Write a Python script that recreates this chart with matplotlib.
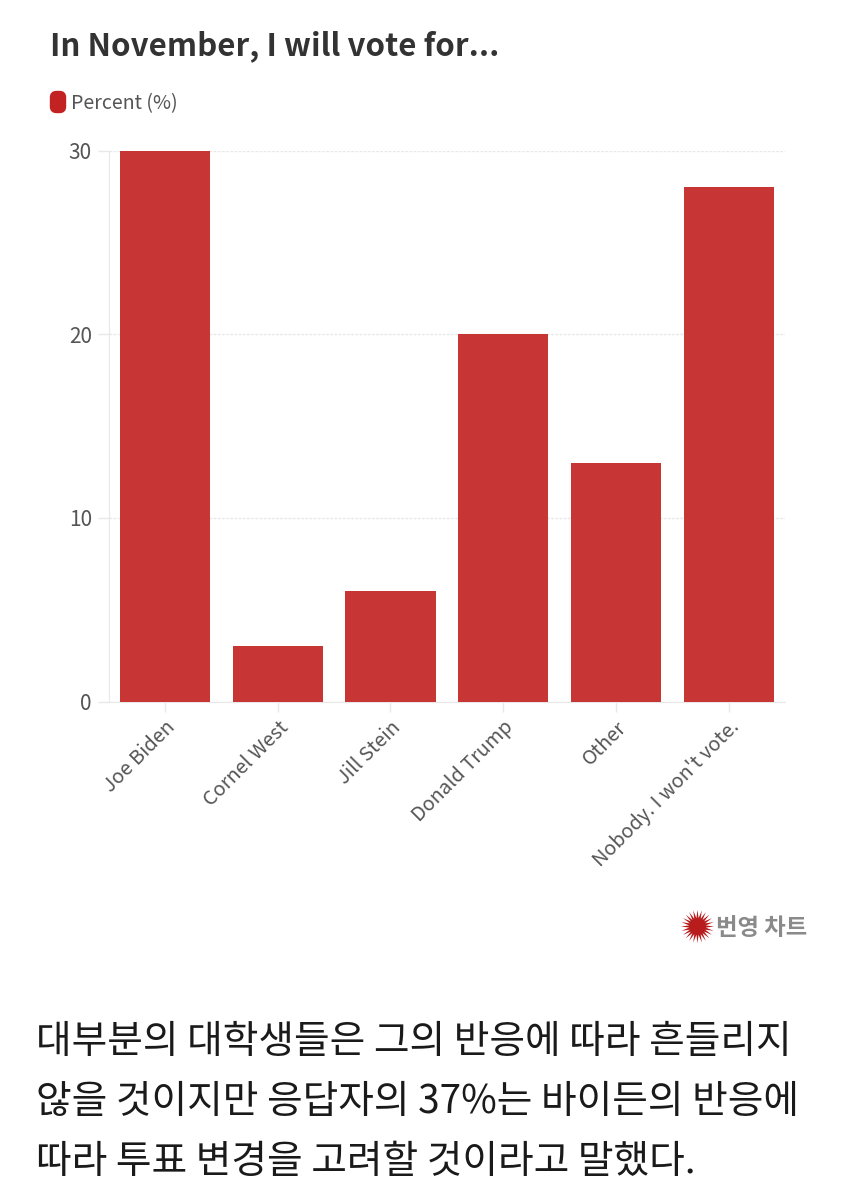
#!/usr/bin/env python3
"""Bar chart of stated vote intention, with the Korean caption underneath."""

import matplotlib

matplotlib.use("Agg")
import matplotlib.pyplot as plt
from matplotlib.patches import FancyBboxPatch

CANDIDATES = ["Joe Biden", "Cornel West", "Jill Stein", "Donald Trump", "Other", "Nobody. I won't vote."]
PERCENT = [30, 3, 6, 20, 13, 28]
Y_TICKS = [0, 10, 20, 30]

TITLE = "In November, I will vote for..."
SERIES_LABEL = "Percent (%)"
BADGE = "번영 차트"
CAPTION = [
    "대부분의 대학생들은 그의 반응에 따라 흔들리지",
    "않을 것이지만 응답자의 37%는 바이든의 반응에",
    "따라 투표 변경을 고려할 것이라고 말했다.",
]

WIDTH, HEIGHT = 850, 1201
BAR_COLOR = "#C73535"
SWATCH_COLOR = "#C22222"
TEXT_DARK = "#333333"
TEXT_MID = "#555555"
LINE_COLOR = "#E8E8E8"
FONT = ["Noto Sans CJK KR", "DejaVu Sans"]

plt.rcParams["font.family"] = FONT

fig = plt.figure(figsize=(WIDTH / 100, HEIGHT / 100), dpi=100, facecolor="white")

# overlay in pixel coordinates for the text around the chart
page = fig.add_axes([0, 0, 1, 1])
page.set_xlim(0, WIDTH)
page.set_ylim(HEIGHT, 0)
page.axis("off")

left, right, top, bottom = 108.6, 785, 150.5, 701.5
ax = fig.add_axes([left / WIDTH, 1 - bottom / HEIGHT, (right - left) / WIDTH, (bottom - top) / HEIGHT])

positions = list(range(len(CANDIDATES)))
ax.bar(positions, PERCENT, width=0.8, color=BAR_COLOR, zorder=3)
ax.set_xlim(-0.5, len(CANDIDATES) - 0.5)
ax.set_ylim(0, 30)
ax.set_yticks(Y_TICKS)
ax.set_xticks(positions)
ax.set_xticklabels(CANDIDATES, rotation=45, ha="right", va="top", rotation_mode="anchor",
                   fontsize=14.3, color=TEXT_MID)
ax.tick_params(axis="x", length=7, width=1, color=LINE_COLOR, pad=4)
ax.tick_params(axis="y", length=8, width=1, color=LINE_COLOR, pad=4, labelsize=15, labelcolor=TEXT_MID)
ax.yaxis.grid(True, color=LINE_COLOR, linewidth=1, linestyle=(0, (2, 1)), zorder=0)
ax.set_axisbelow(True)
for spine in ("top", "right"):
    ax.spines[spine].set_visible(False)
for spine in ("left", "bottom"):
    ax.spines[spine].set_color(LINE_COLOR)

page.text(50, 46.5, TITLE, fontsize=22.5, fontweight="bold", color=TEXT_DARK, ha="left", va="center")
page.add_patch(FancyBboxPatch((50.5, 91.5), 15, 21, boxstyle="round,pad=0,rounding_size=6",
                              facecolor=SWATCH_COLOR, edgecolor=SWATCH_COLOR, linewidth=1))
page.text(71, 104, SERIES_LABEL, fontsize=14.1, color=TEXT_MID, ha="left", va="center")

# starburst logo and the badge next to it
page.plot([697], [926], marker=(24, 1, 0), markersize=24, color="#B81C1C", markeredgewidth=0, linestyle="none")
page.text(716, 928, BADGE, fontsize=16.8, fontweight="bold", color="#8A8A8A", ha="left", va="center")

for y, line in zip((1042, 1102, 1162), CAPTION):
    page.text(36, y, line, fontsize=27.9, color="#1A1A1A", ha="left", va="center")

fig.savefig("out.png", dpi=100, facecolor="white")
